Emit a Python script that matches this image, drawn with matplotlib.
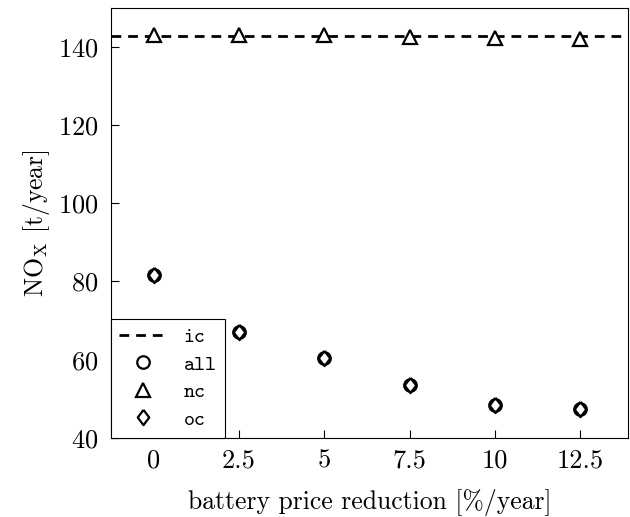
import matplotlib
matplotlib.use('Agg')
import matplotlib.pyplot as plt

plt.rcParams['font.family'] = 'cmr10'
plt.rcParams['mathtext.fontset'] = 'cm'
plt.rcParams['axes.formatter.use_mathtext'] = True

reduction = [0, 2.5, 5, 7.5, 10, 12.5]
tick_labels = ['0', '2.5', '5', '7.5', '10', '12.5']
ic_level = 142.7
nc_values = [143.0, 143.0, 143.0, 142.5, 142.3, 142.0]
all_values = [81.6, 67.1, 60.5, 53.4, 48.4, 47.5]
oc_values = [81.6, 67.1, 60.5, 53.4, 48.4, 47.5]

# wider diamond like the pgfplots one
diamond = [(0, 1), (0.75, 0), (0, -1), (-0.75, 0), (0, 1)]

fig, ax = plt.subplots(figsize=(6.3, 5.17), dpi=100)
fig.subplots_adjust(left=0.176, right=0.997, top=0.985, bottom=0.153)

ax.axhline(ic_level, color='black', linestyle=(0, (3.5, 2.5)), linewidth=2, label='ic', zorder=1)
ax.plot(reduction, all_values, linestyle='none', marker='o', markersize=9,
        markerfacecolor='none', markeredgecolor='black', markeredgewidth=1.6, label='all')
ax.plot(reduction, nc_values, linestyle='none', marker='^', markersize=9.5,
        markerfacecolor='white', markeredgecolor='black', markeredgewidth=1.6, label='nc')
ax.plot(reduction, oc_values, linestyle='none', marker=diamond, markersize=11,
        markerfacecolor='none', markeredgecolor='black', markeredgewidth=1.6, label='oc')

ax.set_xlim(-1.25, 13.9)
ax.set_ylim(40, 150)
ax.set_xticks(reduction)
ax.set_xticklabels(tick_labels)
ax.set_yticks([40, 60, 80, 100, 120, 140])
ax.tick_params(direction='in', length=6, labelsize=19)
ax.tick_params(axis='x', pad=8)
ax.tick_params(axis='y', pad=9)

ax.set_xlabel('battery price reduction [%/year]', fontsize=18.5, labelpad=12)
ax.set_ylabel(r'NO$_\mathrm{X}$ [t/year]', fontsize=18.5, labelpad=4)

leg = ax.legend(loc='lower left', borderaxespad=0, fancybox=False, framealpha=1,
                edgecolor='black', prop={'family': 'cmtt10', 'size': 15},
                handlelength=2.3, handletextpad=0.8, labelspacing=0.38)
leg.get_frame().set_linewidth(0.8)

fig.savefig('out.png', dpi=100)
